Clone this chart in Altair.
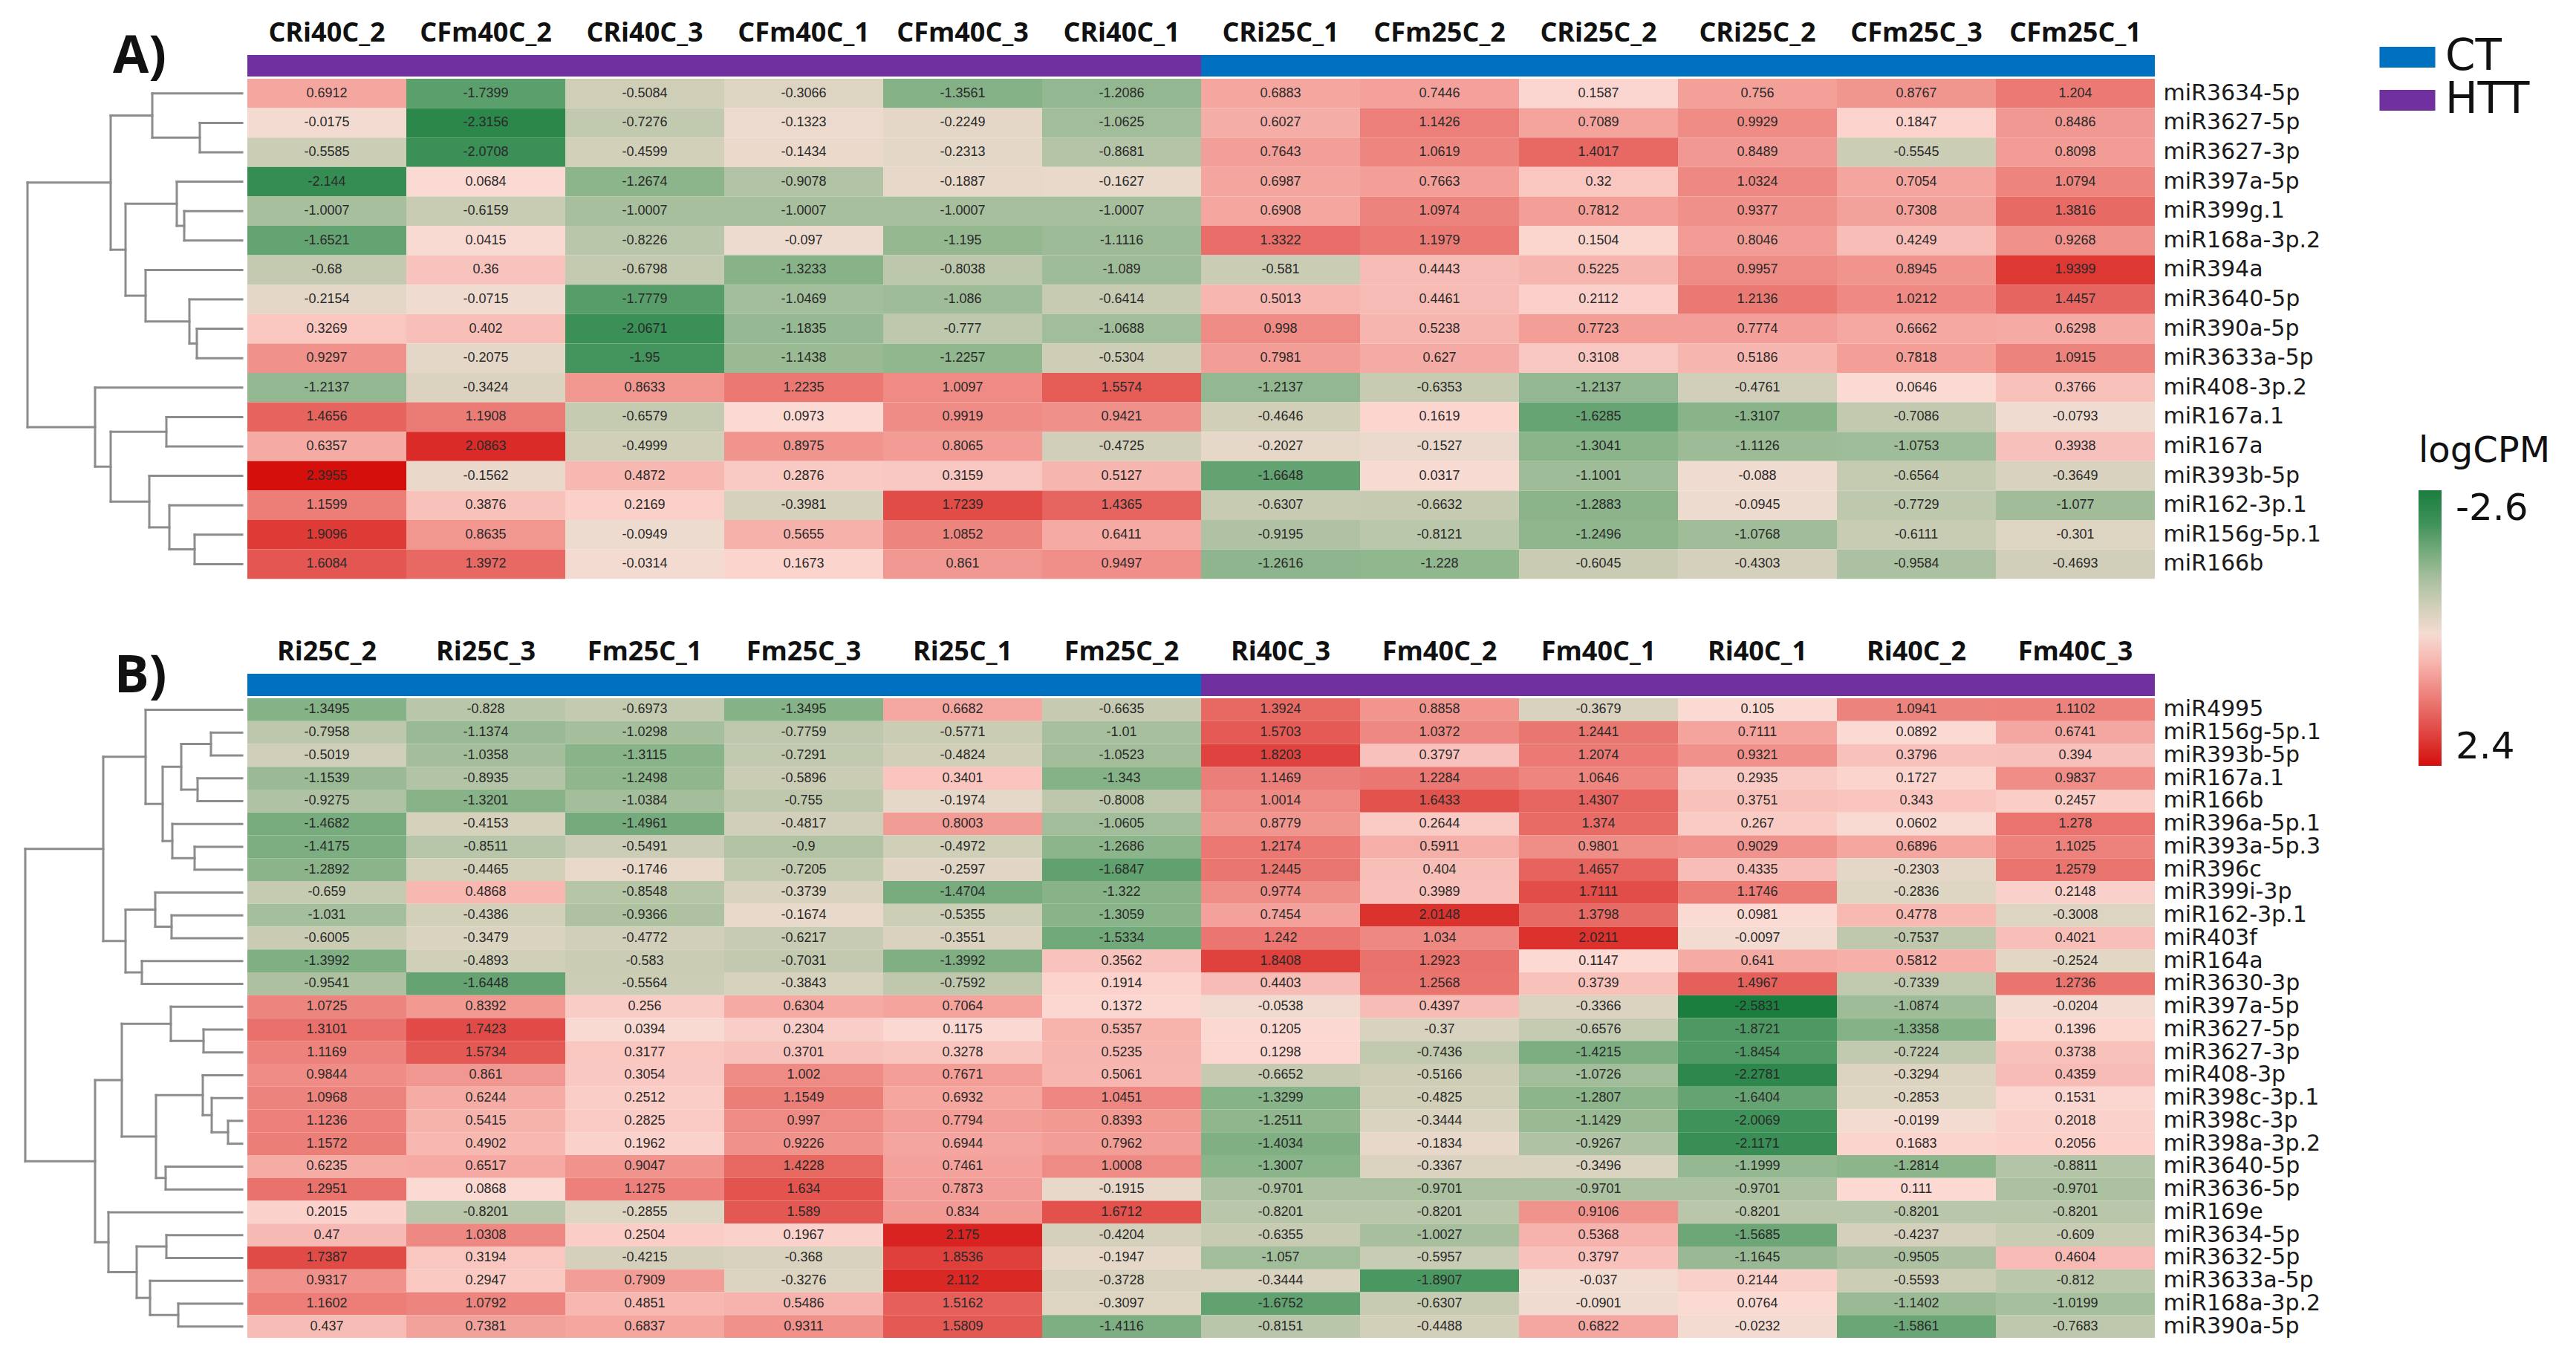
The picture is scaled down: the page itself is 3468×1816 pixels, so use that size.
import altair as alt
import pandas as pd

# ---------------- data ----------------
A_COLS = ["CRi40C_2", "CFm40C_2", "CRi40C_3", "CFm40C_1", "CFm40C_3", "CRi40C_1",
          "CRi25C_1", "CFm25C_2", "CRi25C_2", "CRi25C_2", "CFm25C_3", "CFm25C_1"]
A_GROUPS = ["HTT", "HTT", "HTT", "HTT", "HTT", "HTT", "CT", "CT", "CT", "CT", "CT", "CT"]
A_ROWS = ["miR3634-5p", "miR3627-5p", "miR3627-3p", "miR397a-5p", "miR399g.1", "miR168a-3p.2",
          "miR394a", "miR3640-5p", "miR390a-5p", "miR3633a-5p", "miR408-3p.2", "miR167a.1",
          "miR167a", "miR393b-5p", "miR162-3p.1", "miR156g-5p.1", "miR166b"]
A_VALUES = [
    [0.6912, -1.7399, -0.5084, -0.3066, -1.3561, -1.2086, 0.6883, 0.7446, 0.1587, 0.756, 0.8767, 1.204],
    [-0.0175, -2.3156, -0.7276, -0.1323, -0.2249, -1.0625, 0.6027, 1.1426, 0.7089, 0.9929, 0.1847, 0.8486],
    [-0.5585, -2.0708, -0.4599, -0.1434, -0.2313, -0.8681, 0.7643, 1.0619, 1.4017, 0.8489, -0.5545, 0.8098],
    [-2.144, 0.0684, -1.2674, -0.9078, -0.1887, -0.1627, 0.6987, 0.7663, 0.32, 1.0324, 0.7054, 1.0794],
    [-1.0007, -0.6159, -1.0007, -1.0007, -1.0007, -1.0007, 0.6908, 1.0974, 0.7812, 0.9377, 0.7308, 1.3816],
    [-1.6521, 0.0415, -0.8226, -0.097, -1.195, -1.1116, 1.3322, 1.1979, 0.1504, 0.8046, 0.4249, 0.9268],
    [-0.68, 0.36, -0.6798, -1.3233, -0.8038, -1.089, -0.581, 0.4443, 0.5225, 0.9957, 0.8945, 1.9399],
    [-0.2154, -0.0715, -1.7779, -1.0469, -1.086, -0.6414, 0.5013, 0.4461, 0.2112, 1.2136, 1.0212, 1.4457],
    [0.3269, 0.402, -2.0671, -1.1835, -0.777, -1.0688, 0.998, 0.5238, 0.7723, 0.7774, 0.6662, 0.6298],
    [0.9297, -0.2075, -1.95, -1.1438, -1.2257, -0.5304, 0.7981, 0.627, 0.3108, 0.5186, 0.7818, 1.0915],
    [-1.2137, -0.3424, 0.8633, 1.2235, 1.0097, 1.5574, -1.2137, -0.6353, -1.2137, -0.4761, 0.0646, 0.3766],
    [1.4656, 1.1908, -0.6579, 0.0973, 0.9919, 0.9421, -0.4646, 0.1619, -1.6285, -1.3107, -0.7086, -0.0793],
    [0.6357, 2.0863, -0.4999, 0.8975, 0.8065, -0.4725, -0.2027, -0.1527, -1.3041, -1.1126, -1.0753, 0.3938],
    [2.3955, -0.1562, 0.4872, 0.2876, 0.3159, 0.5127, -1.6648, 0.0317, -1.1001, -0.088, -0.6564, -0.3649],
    [1.1599, 0.3876, 0.2169, -0.3981, 1.7239, 1.4365, -0.6307, -0.6632, -1.2883, -0.0945, -0.7729, -1.077],
    [1.9096, 0.8635, -0.0949, 0.5655, 1.0852, 0.6411, -0.9195, -0.8121, -1.2496, -1.0768, -0.6111, -0.301],
    [1.6084, 1.3972, -0.0314, 0.1673, 0.861, 0.9497, -1.2616, -1.228, -0.6045, -0.4303, -0.9584, -0.4693],
]
# row-dendrogram merges: (child, child, height)
A_MERGES = [
    ("r1", "r2", 57), ("r0", "m0", 121), ("r4", "r5", 78), ("r3", "m2", 88),
    ("r8", "r9", 61), ("r7", "m4", 71), ("r6", "m5", 130), ("m3", "m6", 157),
    ("m1", "m7", 177), ("r15", "r16", 64), ("r14", "m9", 98), ("r13", "m10", 125),
    ("r11", "r12", 102), ("m12", "m11", 177), ("r10", "m13", 198), ("m8", "m14", 289),
]

B_COLS = ["Ri25C_2", "Ri25C_3", "Fm25C_1", "Fm25C_3", "Ri25C_1", "Fm25C_2",
          "Ri40C_3", "Fm40C_2", "Fm40C_1", "Ri40C_1", "Ri40C_2", "Fm40C_3"]
B_GROUPS = ["CT", "CT", "CT", "CT", "CT", "CT", "HTT", "HTT", "HTT", "HTT", "HTT", "HTT"]
B_ROWS = ["miR4995", "miR156g-5p.1", "miR393b-5p", "miR167a.1", "miR166b", "miR396a-5p.1",
          "miR393a-5p.3", "miR396c", "miR399i-3p", "miR162-3p.1", "miR403f", "miR164a",
          "miR3630-3p", "miR397a-5p", "miR3627-5p", "miR3627-3p", "miR408-3p", "miR398c-3p.1",
          "miR398c-3p", "miR398a-3p.2", "miR3640-5p", "miR3636-5p", "miR169e", "miR3634-5p",
          "miR3632-5p", "miR3633a-5p", "miR168a-3p.2", "miR390a-5p"]
B_VALUES = [
    [-1.3495, -0.828, -0.6973, -1.3495, 0.6682, -0.6635, 1.3924, 0.8858, -0.3679, 0.105, 1.0941, 1.1102],
    [-0.7958, -1.1374, -1.0298, -0.7759, -0.5771, -1.01, 1.5703, 1.0372, 1.2441, 0.7111, 0.0892, 0.6741],
    [-0.5019, -1.0358, -1.3115, -0.7291, -0.4824, -1.0523, 1.8203, 0.3797, 1.2074, 0.9321, 0.3796, 0.394],
    [-1.1539, -0.8935, -1.2498, -0.5896, 0.3401, -1.343, 1.1469, 1.2284, 1.0646, 0.2935, 0.1727, 0.9837],
    [-0.9275, -1.3201, -1.0384, -0.755, -0.1974, -0.8008, 1.0014, 1.6433, 1.4307, 0.3751, 0.343, 0.2457],
    [-1.4682, -0.4153, -1.4961, -0.4817, 0.8003, -1.0605, 0.8779, 0.2644, 1.374, 0.267, 0.0602, 1.278],
    [-1.4175, -0.8511, -0.5491, -0.9, -0.4972, -1.2686, 1.2174, 0.5911, 0.9801, 0.9029, 0.6896, 1.1025],
    [-1.2892, -0.4465, -0.1746, -0.7205, -0.2597, -1.6847, 1.2445, 0.404, 1.4657, 0.4335, -0.2303, 1.2579],
    [-0.659, 0.4868, -0.8548, -0.3739, -1.4704, -1.322, 0.9774, 0.3989, 1.7111, 1.1746, -0.2836, 0.2148],
    [-1.031, -0.4386, -0.9366, -0.1674, -0.5355, -1.3059, 0.7454, 2.0148, 1.3798, 0.0981, 0.4778, -0.3008],
    [-0.6005, -0.3479, -0.4772, -0.6217, -0.3551, -1.5334, 1.242, 1.034, 2.0211, -0.0097, -0.7537, 0.4021],
    [-1.3992, -0.4893, -0.583, -0.7031, -1.3992, 0.3562, 1.8408, 1.2923, 0.1147, 0.641, 0.5812, -0.2524],
    [-0.9541, -1.6448, -0.5564, -0.3843, -0.7592, 0.1914, 0.4403, 1.2568, 0.3739, 1.4967, -0.7339, 1.2736],
    [1.0725, 0.8392, 0.256, 0.6304, 0.7064, 0.1372, -0.0538, 0.4397, -0.3366, -2.5831, -1.0874, -0.0204],
    [1.3101, 1.7423, 0.0394, 0.2304, 0.1175, 0.5357, 0.1205, -0.37, -0.6576, -1.8721, -1.3358, 0.1396],
    [1.1169, 1.5734, 0.3177, 0.3701, 0.3278, 0.5235, 0.1298, -0.7436, -1.4215, -1.8454, -0.7224, 0.3738],
    [0.9844, 0.861, 0.3054, 1.002, 0.7671, 0.5061, -0.6652, -0.5166, -1.0726, -2.2781, -0.3294, 0.4359],
    [1.0968, 0.6244, 0.2512, 1.1549, 0.6932, 1.0451, -1.3299, -0.4825, -1.2807, -1.6404, -0.2853, 0.1531],
    [1.1236, 0.5415, 0.2825, 0.997, 0.7794, 0.8393, -1.2511, -0.3444, -1.1429, -2.0069, -0.0199, 0.2018],
    [1.1572, 0.4902, 0.1962, 0.9226, 0.6944, 0.7962, -1.4034, -0.1834, -0.9267, -2.1171, 0.1683, 0.2056],
    [0.6235, 0.6517, 0.9047, 1.4228, 0.7461, 1.0008, -1.3007, -0.3367, -0.3496, -1.1999, -1.2814, -0.8811],
    [1.2951, 0.0868, 1.1275, 1.634, 0.7873, -0.1915, -0.9701, -0.9701, -0.9701, -0.9701, 0.111, -0.9701],
    [0.2015, -0.8201, -0.2855, 1.589, 0.834, 1.6712, -0.8201, -0.8201, 0.9106, -0.8201, -0.8201, -0.8201],
    [0.47, 1.0308, 0.2504, 0.1967, 2.175, -0.4204, -0.6355, -1.0027, 0.5368, -1.5685, -0.4237, -0.609],
    [1.7387, 0.3194, -0.4215, -0.368, 1.8536, -0.1947, -1.057, -0.5957, 0.3797, -1.1645, -0.9505, 0.4604],
    [0.9317, 0.2947, 0.7909, -0.3276, 2.112, -0.3728, -0.3444, -1.8907, -0.037, 0.2144, -0.5593, -0.812],
    [1.1602, 1.0792, 0.4851, 0.5486, 1.5162, -0.3097, -1.6752, -0.6307, -0.0901, 0.0764, -1.1402, -1.0199],
    [0.437, 0.7381, 0.6837, 0.9311, 1.5809, -1.4116, -0.8151, -0.4488, 0.6822, -0.0232, -1.5861, -0.7683],
]
B_MERGES = [
    ("r1", "r2", 42), ("r3", "r4", 60), ("m0", "m1", 82), ("r6", "r7", 64),
    ("r5", "m3", 94), ("m2", "m4", 107), ("r0", "m5", 130), ("r9", "r10", 95),
    ("r8", "m7", 117), ("r11", "r12", 135), ("m8", "m9", 157), ("m6", "m10", 187),
    ("r14", "r15", 52), ("r13", "m12", 96), ("r18", "r19", 19), ("r17", "m14", 41),
    ("r16", "m15", 53), ("r20", "r21", 103), ("m16", "m17", 116), ("m13", "m18", 162),
    ("r23", "r24", 102), ("r26", "r27", 86), ("r25", "m21", 124), ("m20", "m22", 142),
    ("r22", "m23", 180), ("m19", "m24", 198), ("m11", "m25", 292),
]

GROUP_NAMES = ["CT", "HTT"]
GROUP_COLORS = ["#0070C0", "#7030A0"]
CPM_STOPS = [-2.6, -2.0, -1.3, -0.8, -0.4, -0.1, 0.1, 0.7, 1.5, 2.4]
CPM_COLORS = ["#1a7d3e", "#3f925a", "#8ab48a", "#bcc7ab", "#d6d1bc",
              "#eedbcf", "#fcdad4", "#f4a59e", "#e6605b", "#d40f0c"]
CPM_TICKS = [-2.6, 2.4]

# ---------------- layout constants ----------------
DEND_W = 318
COL_GAP = 7
ROW_GAP = 3
HEAT_W = 2568

# The colour bar shows -2.6 on top: encode the negated value and relabel.
neg_scale = alt.Scale(domain=[-s for s in reversed(CPM_STOPS)],
                      range=list(reversed(CPM_COLORS)), interpolate="rgb", clamp=True)
cpm_legend = alt.Legend(
    orient="none", legendX=3248, legendY=510, direction="vertical",
    title="logCPM", titleFont="DejaVu Sans", titleFontSize=48, titleFontWeight="normal",
    titleColor="#111", titlePadding=28, titleAnchor="start",
    gradientLength=371, gradientThickness=31, gradientStrokeWidth=0,
    labelFont="DejaVu Sans", labelFontSize=50, labelColor="#111", labelOffset=19,
    values=[-t for t in CPM_TICKS], labelOverlap=False, padding=0,
    labelExpr="datum.value > 0 ? '-' + format(datum.value, '.1f') : format(-datum.value, '.1f')",
)
group_scale = alt.Scale(domain=GROUP_NAMES, range=GROUP_COLORS)
group_legend = alt.Legend(
    orient="none", legendX=3204, legendY=-26, title=None,
    symbolType="M-1.34,-0.5H1.34V0.5H-1.34Z", symbolSize=3136, symbolStrokeWidth=0,
    symbolOpacity=1, labelFont="DejaVu Sans", labelFontSize=58, labelColor="#111",
    labelOffset=22, rowPadding=0, padding=0,
)


def dendro_df(n, merges):
    pos = {f"r{i}": (0.0, i + 0.5) for i in range(n)}
    segs = []
    for k, (a, b, h) in enumerate(merges):
        ha, ya = pos[a]
        hb, yb = pos[b]
        segs.append(dict(x1=h, x2=h, y1=ya, y2=yb))
        segs.append(dict(x1=ha, x2=h, y1=ya, y2=ya))
        segs.append(dict(x1=hb, x2=h, y1=yb, y2=yb))
        pos[f"m{k}"] = (h, (ya + yb) / 2)
    return pd.DataFrame(segs)


def panel(tag, cols, groups, rows, values, merges, row_h, bar_h, tag_x, tag_y):
    n = len(rows)
    heat_h = row_h * n
    label_expr = "[" + ",".join("'" + c + "'" for c in cols) + "][datum.value]"

    cells = pd.DataFrame([
        {"row": r, "col": j, "value": v, "label": str(v)}
        for i, r in enumerate(rows) for j, v in enumerate(values[i])
    ])
    gdf = pd.DataFrame({"col": list(range(len(cols))), "group": groups})

    xs = alt.Scale(paddingInner=0, paddingOuter=0)
    base = alt.Chart(cells).transform_calculate(neg="-datum.value").encode(
        x=alt.X("col:O", scale=xs, axis=None),
        y=alt.Y("row:N", sort=rows, scale=alt.Scale(paddingInner=0, paddingOuter=0),
                title=None,
                axis=alt.Axis(orient="right", ticks=False, domain=False, labelPadding=11,
                              labelFont="DejaVu Sans", labelFontSize=30, labelColor="#1a1a1a",
                              labelLimit=400)),
    )
    rect = base.mark_rect().encode(
        color=alt.Color("neg:Q", scale=neg_scale, legend=cpm_legend))
    text = base.mark_text(font="Liberation Sans", fontSize=18, color="#2a2a2a").encode(
        text="label:N")
    heat = alt.layer(rect, text).properties(width=HEAT_W, height=heat_h)

    bar = alt.Chart(gdf).mark_rect().encode(
        x=alt.X("col:O", scale=xs, title=None,
                axis=alt.Axis(orient="top", ticks=False, domain=False, labelAngle=0,
                              labelExpr=label_expr, labelFont="Open Sans",
                              labelFontWeight="bold", labelFontSize=36, labelColor="#111",
                              labelPadding=11, labelOverlap=False, labelLimit=400)),
        fill=alt.Fill("group:N", scale=group_scale, legend=group_legend),
    ).properties(width=HEAT_W, height=bar_h)

    dend = alt.Chart(dendro_df(n, merges)).mark_rule(
        color="#8c8c8c", strokeWidth=3, strokeCap="square").encode(
        x=alt.X("x1:Q", scale=alt.Scale(domain=[DEND_W, 0], nice=False, zero=False), axis=None),
        x2="x2:Q",
        y=alt.Y("y1:Q", scale=alt.Scale(domain=[0, n], reverse=True, nice=False, zero=False),
                axis=None),
        y2="y2:Q",
    ).properties(width=DEND_W, height=heat_h)

    tagc = alt.Chart(pd.DataFrame({"t": [tag]})).mark_text(
        font="Open Sans", fontWeight="bold", fontSize=70, align="center",
        baseline="alphabetic", color="#111").encode(
        text="t:N", x=alt.value(tag_x), y=alt.value(tag_y)
    ).properties(width=DEND_W, height=bar_h)

    return [tagc, bar, dend, heat]


def spacer(w, h):
    return alt.Chart(pd.DataFrame({"t": [""]})).mark_text().encode(
        text="t:N").properties(width=w, height=h)


items = (
    panel("A)", A_COLS, A_GROUPS, A_ROWS, A_VALUES, A_MERGES,
          row_h=39.6, bar_h=29, tag_x=180, tag_y=24)
    + [spacer(DEND_W, 121), spacer(HEAT_W, 121)]
    + panel("B)", B_COLS, B_GROUPS, B_ROWS, B_VALUES, B_MERGES,
            row_h=30.75, bar_h=30, tag_x=181, tag_y=25)
)

chart = alt.concat(*items, columns=2, align="each", bounds="flush",
                   spacing={"row": ROW_GAP, "column": COL_GAP}).properties(
    padding={"left": 0, "top": 18, "right": 0, "bottom": 0},
    background="white",
).configure_view(strokeWidth=0)

chart.save("out.html", embed_options={"renderer": "svg", "actions": False})
